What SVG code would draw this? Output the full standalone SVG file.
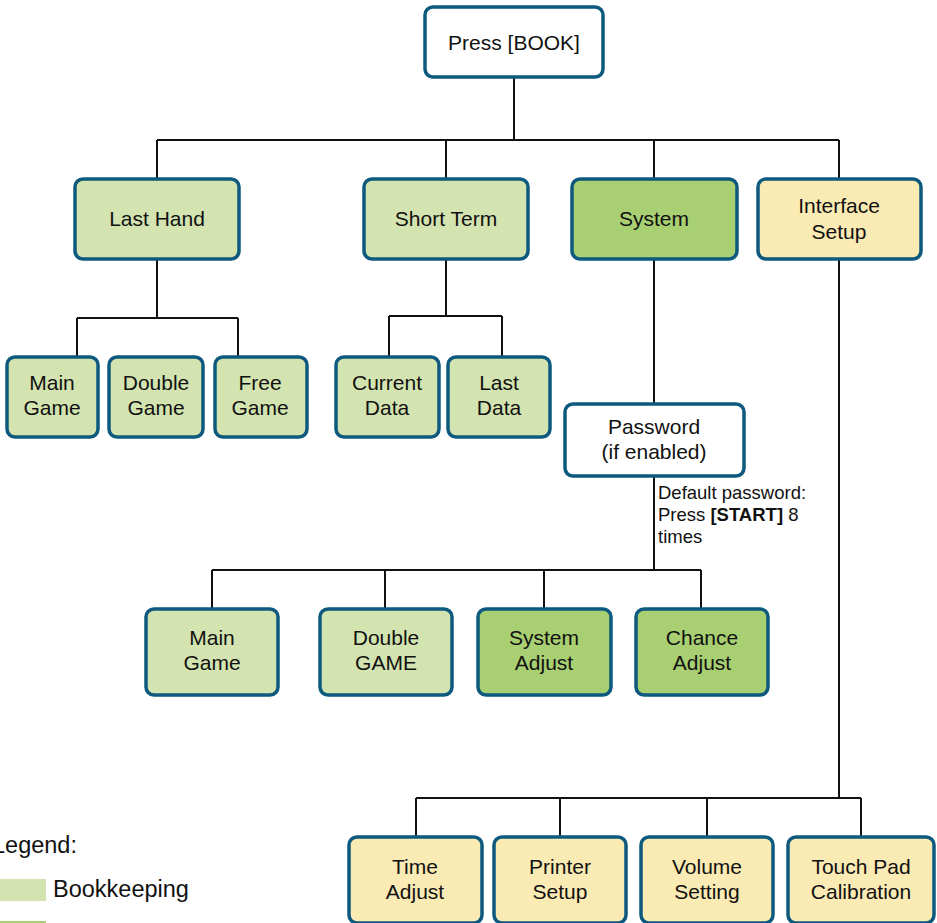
<svg xmlns="http://www.w3.org/2000/svg" width="937" height="923" viewBox="0 0 937 923">
<style>
.n{stroke:#0d5a7e;stroke-width:3.5}
.lg{fill:#d3e4b0}.dg{fill:#a8cf72}.yl{fill:#faeab4}.wh{fill:#ffffff}
.t{font-family:"Liberation Sans",Arial,sans-serif;font-size:21px;fill:#111;text-anchor:middle}
.s{font-family:"Liberation Sans",Arial,sans-serif;font-size:18.5px;fill:#111}
.lt{font-family:"Liberation Sans",Arial,sans-serif;font-size:23.5px;fill:#111}
.c{stroke:#111;stroke-width:2;fill:none}
</style>
<rect width="937" height="923" fill="#ffffff"/>
<g id="connectors" class="c">
<path d="M514,77V140M157,140H839M157,140V179M446,140V179M654,140V179M839,140V179"/>
<path d="M157,259V318M77,318H238M77,318V357M238,318V357"/>
<path d="M446,259V316M389,316H502M389,316V357M502,316V357"/>
<path d="M654,259V404M654,476V570M212,570H701M212,570V609M385,570V609M544,570V609M701,570V609"/>
<path d="M839,259V798M416,798H861M416,798V837M560,798V837M707,798V837M861,798V837"/>
</g>
<g id="book"><rect class="n wh" x="425" y="7" width="178" height="70" rx="8"/><text class="t" x="514" y="50">Press [BOOK]</text></g>
<g id="lastHand"><rect class="n lg" x="75" y="179" width="164" height="80" rx="8"/><text class="t" x="157" y="226">Last Hand</text></g>
<g id="shortTerm"><rect class="n lg" x="364" y="179" width="164" height="80" rx="8"/><text class="t" x="446" y="226">Short Term</text></g>
<g id="system"><rect class="n dg" x="572" y="179" width="165" height="80" rx="8"/><text class="t" x="654" y="226">System</text></g>
<g id="interface"><rect class="n yl" x="758" y="179" width="163" height="80" rx="8"/><text class="t" x="839" y="213">Interface</text><text class="t" x="839" y="239">Setup</text></g>
<g id="lhMain"><rect class="n lg" x="7" y="357" width="91" height="80" rx="8"/><text class="t" x="52" y="390">Main</text><text class="t" x="52" y="415">Game</text></g>
<g id="lhDouble"><rect class="n lg" x="109" y="357" width="94" height="80" rx="8"/><text class="t" x="156" y="390">Double</text><text class="t" x="156" y="415">Game</text></g>
<g id="lhFree"><rect class="n lg" x="215" y="357" width="92" height="80" rx="8"/><text class="t" x="260" y="390">Free</text><text class="t" x="260" y="415">Game</text></g>
<g id="stCurrent"><rect class="n lg" x="336" y="357" width="103" height="80" rx="8"/><text class="t" x="387" y="390">Current</text><text class="t" x="387" y="415">Data</text></g>
<g id="stLast"><rect class="n lg" x="448" y="357" width="102" height="80" rx="8"/><text class="t" x="499" y="390">Last</text><text class="t" x="499" y="415">Data</text></g>
<g id="password"><rect class="n wh" x="565" y="404" width="179" height="72" rx="8"/><text class="t" x="654" y="434">Password</text><text class="t" x="654" y="459">(if enabled)</text></g>
<g id="pwNote"><text class="s" x="658" y="499">Default password:</text><text class="s" x="658" y="521">Press <tspan font-weight="bold">[START]</tspan> 8</text><text class="s" x="658" y="543">times</text></g>
<g id="sysMain"><rect class="n lg" x="146" y="609" width="132" height="86" rx="8"/><text class="t" x="212" y="645">Main</text><text class="t" x="212" y="670">Game</text></g>
<g id="sysDouble"><rect class="n lg" x="320" y="609" width="132" height="86" rx="8"/><text class="t" x="386" y="645">Double</text><text class="t" x="386" y="670">GAME</text></g>
<g id="sysAdjust"><rect class="n dg" x="478" y="609" width="133" height="86" rx="8"/><text class="t" x="544" y="645">System</text><text class="t" x="544" y="670">Adjust</text></g>
<g id="chanceAdjust"><rect class="n dg" x="636" y="609" width="132" height="86" rx="8"/><text class="t" x="702" y="645">Chance</text><text class="t" x="702" y="670">Adjust</text></g>
<g id="timeAdjust"><rect class="n yl" x="349" y="837" width="133" height="86" rx="8"/><text class="t" x="415" y="874">Time</text><text class="t" x="415" y="899">Adjust</text></g>
<g id="printerSetup"><rect class="n yl" x="494" y="837" width="132" height="86" rx="8"/><text class="t" x="560" y="874">Printer</text><text class="t" x="560" y="899">Setup</text></g>
<g id="volumeSetting"><rect class="n yl" x="641" y="837" width="132" height="86" rx="8"/><text class="t" x="707" y="874">Volume</text><text class="t" x="707" y="899">Setting</text></g>
<g id="touchPad"><rect class="n yl" x="788" y="837" width="146" height="86" rx="8"/><text class="t" x="861" y="874">Touch Pad</text><text class="t" x="861" y="899">Calibration</text></g>
<g id="legend">
<text class="lt" x="-8" y="853">Legend:</text>
<rect class="lg" x="-2" y="879" width="48" height="22"/>
<text class="lt" x="53" y="897">Bookkeeping</text>
<rect class="dg" x="-2" y="921" width="48" height="22"/>
</g>
</svg>
